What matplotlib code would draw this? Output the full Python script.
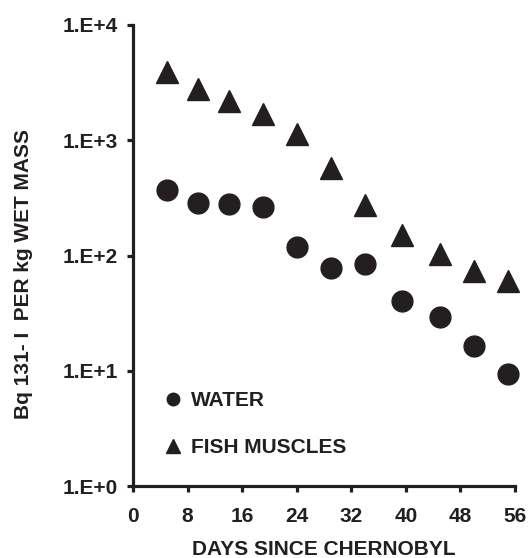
import matplotlib
matplotlib.use('Agg')
import matplotlib.pyplot as plt

# days since Chernobyl and activity (Bq 131-I per kg wet mass)
days = [5, 9.5, 14, 19, 24, 29, 34, 39.5, 45, 50, 55]
water = [370, 283, 280, 265, 119, 78, 85, 40, 29, 16.4, 9.4]
fish = [3900, 2780, 2190, 1690, 1135, 575, 275, 151, 103, 74, 60]

x_ticks = [0, 8, 16, 24, 32, 40, 48, 56]
y_ticks = [1, 10, 100, 1000, 10000]
y_labels = ['1.E+0', '1.E+1', '1.E+2', '1.E+3', '1.E+4']

ink = '#231f20'
plt.rcParams['font.family'] = ['Liberation Sans', 'DejaVu Sans']
plt.rcParams['font.weight'] = 'bold'

fig = plt.figure(figsize=(5.29, 5.58), dpi=100)
ax = fig.add_axes([133 / 529, 1 - 486 / 558, 382 / 529, 461 / 558])

ax.plot(days, water, 'o', color=ink, markersize=15, label='WATER', clip_on=False)
ax.plot(days, fish, '^', color=ink, markersize=16.5, label='FISH MUSCLES', clip_on=False)

ax.set_yscale('log')
ax.set_xlim(0, 56)
ax.set_ylim(1, 10000)
ax.set_xticks(x_ticks)
ax.set_yticks(y_ticks)
ax.set_yticklabels(y_labels)
ax.minorticks_off()

for s in ['top', 'right']:
    ax.spines[s].set_visible(False)
for s in ['left', 'bottom']:
    ax.spines[s].set_linewidth(2.3)
    ax.spines[s].set_color(ink)

ax.tick_params(axis='both', direction='out', length=4, width=2.3, color=ink,
               labelsize=15, labelcolor=ink)
ax.tick_params(axis='x', pad=11)
ax.tick_params(axis='y', pad=7)

ax.set_xlabel('DAYS SINCE CHERNOBYL', fontsize=15, fontweight='bold', color=ink, labelpad=10)
ax.set_ylabel('Bq 131- I  PER kg WET MASS', fontsize=15, fontweight='bold', color=ink)
ax.yaxis.set_label_coords(-0.262, 0.46)

ax.legend(loc='center left', bbox_to_anchor=(0.084, 0.134), frameon=False,
          markerscale=0.6, handlelength=0.8, handletextpad=0.45, labelspacing=1.35,
          borderpad=0, borderaxespad=0, prop={'size': 15, 'weight': 'bold'},
          labelcolor=ink)

fig.savefig('out.png', dpi=100)
